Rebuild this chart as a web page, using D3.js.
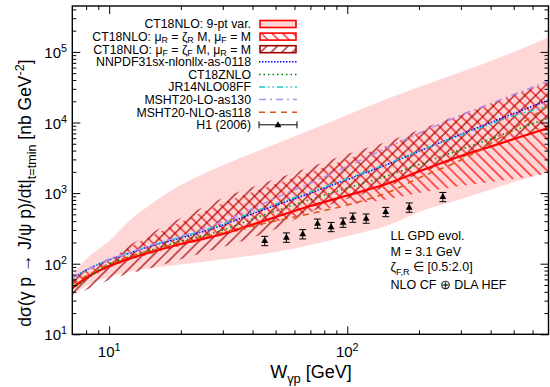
<!DOCTYPE html>
<html><head><meta charset="utf-8">
<script src="https://cdn.jsdelivr.net/npm/d3@7"></script>
<style>body{margin:0;background:#fff}svg{display:block;font-family:"Liberation Sans",Arial,Helvetica,sans-serif}</style>
</head><body><svg id="c" width="550" height="387"></svg>
<script>
// ---------- data ----------
const bandW  = [7,8,10,12,15,20,30,50,70,100,150,200,300,500,700];
const pinkLo = [34.8,48.3,64.7,76.2,86.8,97.3,116,147,184,247,353,540,825,1436,1990];
const pinkHi = [71.4,116,209,389,699,1298,2490,4960,7830,12800,22200,31800,51900,99700,163000];
const muRLo  = [42.4,58.7,86.8,109,137,178,255,390,540,678,825,1003,1262,1585,1866];
const muRHi  = [62.7,81.3,116,167,246,389,721,1345,1990,3040,4800,7210,12600,24300,37500];
const muFLo  = [33.7,42.4,58.7,71.4,86.8,116,172,310,540,825,1262,1866,3140,5650,8090];
const muFHi  = [62.7,81.3,120,178,272,443,849,1585,2340,3580,5470,7830,13200,24500,37500];

const curveW  = [7,8,10,12,15,20,30,40,50,70,100,150,200,300,400,500,700];
const ct18    = [45.2,62.7,92.6,116,146,190,263,359,458,656,925,1390,2020,3350,4570,5830,8360];
const nnpdf   = [62.7,81.3,113,139,178,231,352,511,670,1003,1560,2610,3910,6820,10000,13400,20800];
const ct18z   = [43.8,60.7,98.9,124,156,209,299,430,557,811,1180,1800,2540,4150,5840,7710,11600];
const jr14    = [62.7,81.3,113,141,181,238,365,540,701,1037,1610,2670,3950,6650,9530,12400,17100];
const mshtLO  = [62.7,81.3,115,141,184,245,395,601,853,1390,2380,4540,7030,12700,18600,24900,38700];
const mshtNLO = [51.5,66.9,98.9,124,153,202,276,342,403,511,678,1037,1640,2940,5040,8220,17100];

const h1W   = [45,55.5,65,75,85.5,96,105.5,120,145,182,252];
const h1Sig = [212,237,264,373,334,386,454,440,545,630,889];
const h1Err = [32,36,40,56,50,58,68,66,82,95,133];

const xMajor = [10,100];
const xMinor = [8,9,20,30,40,50,60,70,80,90,200,300,400,500,600];
const yMajor = [10,100,1000,1e4,1e5];
const yMinor = [];
[10,100,1000,1e4,1e5].forEach(d=>{for(let k=2;k<=9;k++){const v=d*k; if(v<4.47e5) yMinor.push(v);}});

// ---------- setup ----------
const L=72.3,R=548.5,T=6,B=334.3;
const svg=d3.select('#c');
const x=d3.scaleLog().domain([7,700]).range([L,R]);
const y=d3.scaleLog().domain([10,4.47e5]).range([B,T]);

const defs=svg.append('defs');
defs.append('clipPath').attr('id','clip').append('rect').attr('x',L).attr('y',T).attr('width',R-L).attr('height',B-T);
function hatch(id,color,angle){
  const p=defs.append('pattern').attr('id',id).attr('patternUnits','userSpaceOnUse')
    .attr('width',7.5).attr('height',7.5).attr('patternTransform',`rotate(${angle})`);
  p.append('line').attr('x1',3.75).attr('y1',-1).attr('x2',3.75).attr('y2',8.5)
    .attr('stroke',color).attr('stroke-width',1.2);
}
hatch('hR','#ff0000',-45);
hatch('hF','#a00000',45);

const g=svg.append('g').attr('clip-path','url(#clip)');
function bandArea(lo,hi){
  return d3.area().x((d,i)=>x(bandW[i])).y0((d,i)=>y(lo[i])).y1((d,i)=>y(hi[i])).curve(d3.curveMonotoneX)(bandW);
}
g.append('path').attr('d',bandArea(pinkLo,pinkHi)).attr('fill','#ffd6d6');
g.append('path').attr('d',bandArea(muRLo,muRHi)).attr('fill','url(#hR)');
g.append('path').attr('d',bandArea(muFLo,muFHi)).attr('fill','url(#hF)');

const line=d3.line().x((d,i)=>x(curveW[i])).y(d=>y(d)).curve(d3.curveMonotoneX);
const series=[
  {v:ct18,   c:'#ff0000', w:2.2, dash:null},
  {v:nnpdf,  c:'#0000ff', w:1.5, dash:'1.5,1.5'},
  {v:ct18z,  c:'#008000', w:1.5, dash:'1.5,3'},
  {v:jr14,   c:'#20c8c8', w:1.5, dash:'6,3,1.5,3,1.5,3'},
  {v:mshtLO, c:'#b08cf0', w:1.5, dash:'7,4,2,4'},
  {v:mshtNLO,c:'#d9541a', w:1.5, dash:'6,5'}
];
series.forEach(s=>{
  g.append('path').attr('d',line(s.v)).attr('fill','none').attr('stroke',s.c)
   .attr('stroke-width',s.w).attr('stroke-dasharray',s.dash);
});

// H1 points
function h1Point(sel,cx,cy,yl,yh){
  sel.append('line').attr('x1',cx).attr('x2',cx).attr('y1',yl).attr('y2',yh).attr('stroke','#000').attr('stroke-width',1);
  [yl,yh].forEach(v=>sel.append('line').attr('x1',cx-3.5).attr('x2',cx+3.5).attr('y1',v).attr('y2',v).attr('stroke','#000').attr('stroke-width',1));
  sel.append('path').attr('d',`M${cx},${cy-3.6}L${cx+3.4},${cy+2.4}L${cx-3.4},${cy+2.4}Z`).attr('fill','#000');
}
h1W.forEach((w,i)=>{
  h1Point(g,x(w),y(h1Sig[i]),y(h1Sig[i]-h1Err[i]),y(h1Sig[i]+h1Err[i]));
});

// ---------- axes ----------
function ticks(axisFn,vals,size,tr){
  const a=axisFn.tickValues(vals).tickSize(-size).tickFormat('');
  const s=svg.append('g').attr('transform',tr).call(a);
  s.select('.domain').remove();
  s.selectAll('text').remove();
  s.selectAll('line').attr('stroke','#000').attr('stroke-width',1);
}
ticks(d3.axisBottom(x),xMajor,8,`translate(0,${B})`);
ticks(d3.axisBottom(x),xMinor,4,`translate(0,${B})`);
ticks(d3.axisTop(x),xMajor,8,`translate(0,${T})`);
ticks(d3.axisTop(x),xMinor,4,`translate(0,${T})`);
ticks(d3.axisLeft(y),yMajor,8,`translate(${L},0)`);
ticks(d3.axisLeft(y),yMinor,4,`translate(${L},0)`);
ticks(d3.axisRight(y),yMajor,8,`translate(${R},0)`);
ticks(d3.axisRight(y),yMinor,4,`translate(${R},0)`);
svg.append('rect').attr('x',L).attr('y',T).attr('width',R-L).attr('height',B-T)
  .attr('fill','none').attr('stroke','#000').attr('stroke-width',1.4);

// rich text: parts [[text, kind]] ; shifts tracked so no empty tspans
function rich(t,parts,fs,subK){
  const sk = subK===undefined?0.3:subK;
  let cur=0;
  parts.forEach(p=>{
    const [txt,kind]=p;
    const target = kind==='sub'? fs*sk : kind==='sup'? -fs*0.4 : 0;
    const ts=t.append('tspan').text(txt);
    if(target!==cur) ts.attr('dy',target-cur);
    if(kind) ts.attr('font-size',fs*0.72);
    cur=target;
  });
  return t;
}
const tfs=15;
xMajor.forEach(v=>{
  const t=svg.append('text').attr('x',x(v)).attr('y',357).attr('text-anchor','middle').attr('font-size',tfs);
  rich(t,[['10'],[String(Math.round(Math.log10(v))),'sup']],tfs);
});
yMajor.forEach(v=>{
  const t=svg.append('text').attr('x',67).attr('y',y(v)+6).attr('text-anchor','end').attr('font-size',tfs);
  rich(t,[['10'],[String(Math.round(Math.log10(v))),'sup']],tfs);
});
// axis titles
{
  const t=svg.append('text').attr('x',311).attr('y',378).attr('text-anchor','middle').attr('font-size',18);
  rich(t,[['W'],['\u03b3p','sub'],[' [GeV]']],18);
}
{
  const t=svg.append('text').attr('transform','translate(31,193) rotate(-90)').attr('text-anchor','middle').attr('font-size',17.5);
  rich(t,[['d\u03c3(\u03b3 p \u2192 J/\u03c8 p)/dt|'],['t=tmin','sub'],[' [nb GeV'],['-2','sup'],[']']],17.5);
}

// ---------- legend ----------
const lfs=12.3;
const legend=[
  {parts:[['CT18NLO: 9-pt var.']], type:'box', fill:'#ffd6d6', stroke:'#ff0000'},
  {parts:[['CT18NLO: \u03bc'],['R','sub'],[' = \u03b6'],['R','sub'],[' M, \u03bc'],['F','sub'],[' = M']], type:'box', fill:'url(#hR)', stroke:'#ff0000'},
  {parts:[['CT18NLO: \u03bc'],['F','sub'],[' = \u03b6'],['F','sub'],[' M, \u03bc'],['R','sub'],[' = M']], type:'box', fill:'url(#hF)', stroke:'#a00000'},
  {parts:[['NNPDF31sx-nlonllx-as-0118']], type:'line', s:series[1]},
  {parts:[['CT18ZNLO']], type:'line', s:series[2]},
  {parts:[['JR14NLO08FF']], type:'line', s:series[3]},
  {parts:[['MSHT20-LO-as130']], type:'line', s:series[4]},
  {parts:[['MSHT20-NLO-as118']], type:'line', s:series[5]},
  {parts:[['H1 (2006)']], type:'pt'}
];
legend.forEach((d,i)=>{
  const cy=24+12.6*i;
  const t=svg.append('text').attr('x',251).attr('y',cy+4.3).attr('text-anchor','end').attr('font-size',lfs);
  rich(t,d.parts,lfs,0.2);
  if(d.type==='box'){
    svg.append('rect').attr('x',260).attr('y',cy-3.5).attr('width',36).attr('height',7)
      .attr('fill',d.fill).attr('stroke',d.stroke).attr('stroke-width',1.6);
  } else if(d.type==='line'){
    svg.append('line').attr('x1',259).attr('x2',297).attr('y1',cy).attr('y2',cy)
      .attr('stroke',d.s.c).attr('stroke-width',d.s.w).attr('stroke-dasharray',d.s.dash);
  } else {
    svg.append('line').attr('x1',259).attr('x2',297).attr('y1',cy).attr('y2',cy).attr('stroke','#000');
    [259,297].forEach(xx=>svg.append('line').attr('x1',xx).attr('x2',xx).attr('y1',cy-3.5).attr('y2',cy+3.5).attr('stroke','#000'));
    svg.append('path').attr('d',`M278,${cy-3.6}L281.4,${cy+2.4}L274.6,${cy+2.4}Z`).attr('fill','#000');
  }
});

// ---------- annotation ----------
const afs=12.5;
const ann=[
  [['LL GPD evol.']],
  [['M = 3.1 GeV']],
  [['\u03b6'],['F,R','sub'],[' \u2208 [0.5:2.0]']],
  [['NLO CF \u2295 DLA HEF']]
];
const annY=[240,256,271,289];
ann.forEach((p,i)=>{
  const t=svg.append('text').attr('x',390.5).attr('y',annY[i]).attr('font-size',afs);
  rich(t,p,afs);
});
</script></body></html>
